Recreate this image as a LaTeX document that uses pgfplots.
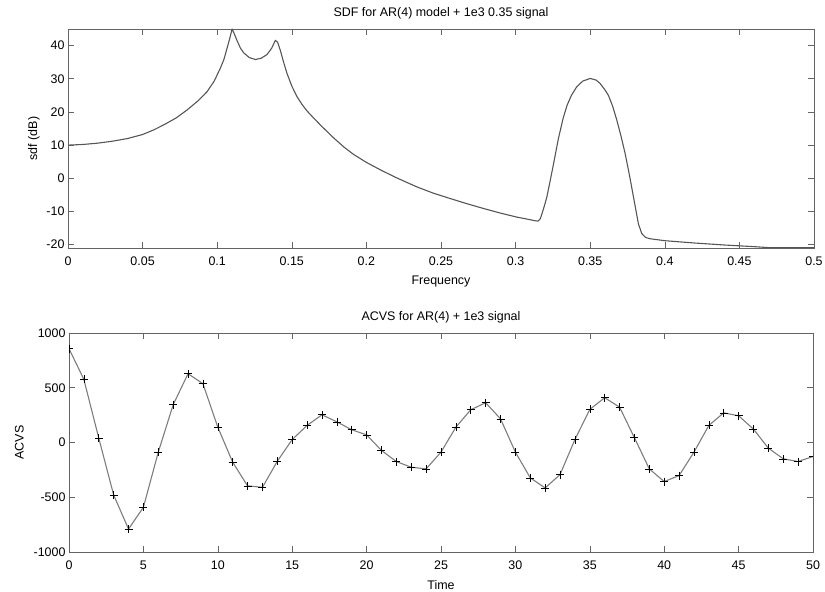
\documentclass[border=0pt]{standalone}
\usepackage{fontspec}
\setmainfont{Liberation Sans}
\usepackage{pgfplots}
\usepackage{pgfplotstable}
\pgfplotsset{compat=1.18}
\definecolor{framec}{RGB}{100,100,100}
\definecolor{curvec}{RGB}{85,85,85}
\definecolor{acvsc}{RGB}{125,125,125}

\pgfplotstableread{
f db
0 10.0
0.01 10.2
0.02 10.6
0.03 11.2
0.04 12.0
0.05 13.2
0.0575 14.6
0.065 16.3
0.0725 18.2
0.0798 20.6
0.087 23.3
0.0932 26.1
0.098 29.3
0.1021 33.2
0.1045 35.8
0.1066 39.2
0.1085 42.3
0.11 45.0
0.1115 43.5
0.1133 41.5
0.1155 39.3
0.1178 37.8
0.1215 36.4
0.1256 35.8
0.1295 36.2
0.1334 37.3
0.1365 39.2
0.139 41.6
0.1405 41.0
0.1423 38.6
0.1445 35.0
0.1468 31.6
0.15 27.8
0.1535 24.6
0.1568 22.3
0.1602 20.3
0.165 18.0
0.17 15.7
0.178 12.2
0.185 9.4
0.1914 7.2
0.2 4.8
0.21 2.4
0.22 0.2
0.2339 -2.6
0.245 -4.5
0.2562 -6.1
0.267 -7.6
0.2785 -9.1
0.29 -10.5
0.3009 -11.7
0.309 -12.4
0.3131 -12.8
0.315 -12.9
0.3165 -12.2
0.3178 -10.5
0.3195 -8.0
0.321 -5.5
0.3235 0.0
0.3254 4.3
0.3287 12.0
0.3318 18.0
0.3345 22.0
0.3374 25.0
0.341 27.6
0.345 29.3
0.35 30.1
0.354 29.6
0.3566 28.6
0.3600 26.6
0.3622 25.0
0.3650 21.8
0.3678 17.6
0.3706 12.8
0.3734 7.5
0.3762 1.2
0.379 -5.6
0.3823 -13.7
0.3845 -16.6
0.387 -17.8
0.39 -18.2
0.40 -18.8
0.42 -19.5
0.44 -20.1
0.46 -20.6
0.47 -20.9
0.5 -20.9
}\sdftable

\pgfplotstableread{
t acvs
0 857
1 576
2 40
3 -479
4 -790
5 -592
6 -88
7 345
8 628
9 537
10 140
11 -180
12 -396
13 -409
14 -171
15 27
16 156
17 253
18 189
19 116
20 70
21 -73
22 -174
23 -226
24 -241
25 -88
26 140
27 299
28 363
29 216
30 -88
31 -323
32 -415
33 -293
34 27
35 302
36 409
37 323
38 43
39 -241
40 -357
41 -302
42 -88
43 156
44 271
45 244
46 122
47 -52
48 -149
49 -174
50 -128
}\acvstable

\begin{document}
\begin{tikzpicture}
\useasboundingbox (0bp,0bp) rectangle (825bp,592bp);
\pgfplotsset{
  every axis/.append style={
    scale only axis,
    font=\fontsize{12.5}{15}\selectfont,
    tick align=inside,
    major tick length=6bp,
    axis line style={framec, line width=0.8pt},
    every tick/.style={framec, line width=0.6pt},
    ticklabel style={font=\fontsize{12.5}{15}\selectfont},
    label style={font=\fontsize{12.5}{15}\selectfont},
    title style={font=\fontsize{12.5}{15}\selectfont},
    xticklabel style={yshift=-5bp},
    xlabel style={yshift=-4bp},
    clip marker paths=true,
  }
}
\begin{axis}[
  at={(68bp,344bp)}, anchor=south west,
  width=746bp, height=219bp,
  xmin=0, xmax=0.5, ymin=-21, ymax=45,
  xtick={0,0.05,0.1,0.15,0.2,0.25,0.3,0.35,0.4,0.45,0.5},
  xticklabels={0,0.05,0.1,0.15,0.2,0.25,0.3,0.35,0.4,0.45,0.5},
  ytick={-20,-10,0,10,20,30,40},
  yticklabels={-20,-10,0,10,20,30,40},
  xlabel={Frequency},
  ylabel={sdf (dB)},
  title={SDF for AR(4) model + 1e3 0.35 signal},
]
\addplot[curvec, line width=1.1pt, line join=round] table[x=f, y=db] {\sdftable};
\end{axis}

\begin{axis}[
  at={(69bp,40bp)}, anchor=south west,
  width=744bp, height=219bp,
  xmin=0, xmax=50, ymin=-1000, ymax=1000,
  xtick={0,5,10,15,20,25,30,35,40,45,50},
  xticklabels={0,5,10,15,20,25,30,35,40,45,50},
  ytick={-1000,-500,0,500,1000},
  yticklabels={-1000,-500,0,500,1000},
  xlabel={Time},
  ylabel={ACVS},
  ylabel style={xshift=0bp, yshift=3bp},
  title={ACVS for AR(4) + 1e3 signal},
]
\addplot[acvsc, line width=1.1pt, mark=+, mark size=4bp,
  mark options={black, line width=0.6pt}] table[x=t, y=acvs] {\acvstable};
\end{axis}
\end{tikzpicture}
\end{document}
